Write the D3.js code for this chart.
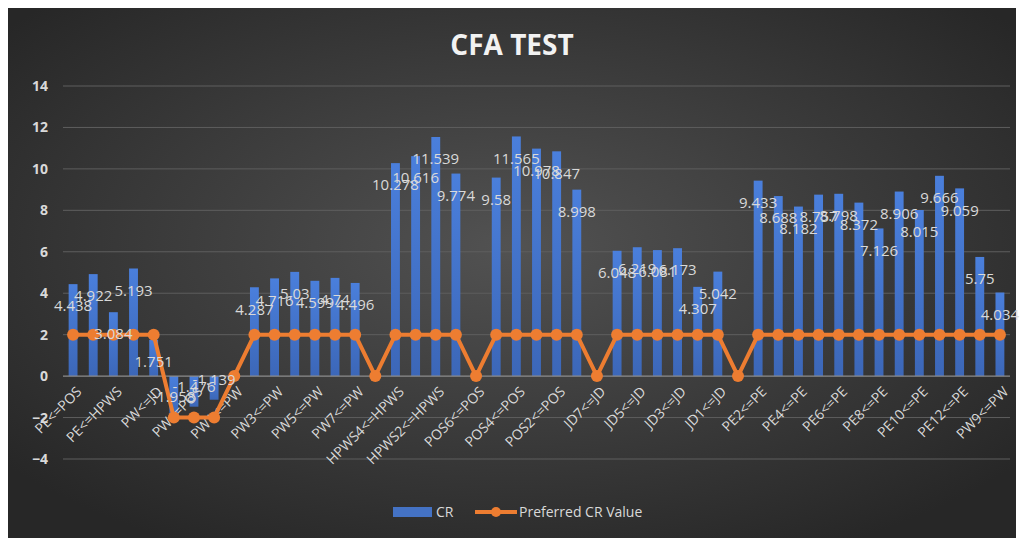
<!DOCTYPE html>
<html>
<head>
<meta charset="utf-8">
<script src="https://cdn.jsdelivr.net/npm/d3@7"></script>
<style>
  html, body { margin: 0; padding: 0; background: #fff; }
  svg { display: block; }
  text { font-family: "Open Sans", Lato, sans-serif; }
</style>
</head>
<body>
<div id="chart"></div>
<script>
// CFA TEST — CR bars + preferred CR value line

const categories = [
  'PE<=POS', 'PE<=PW', 'PE<=HPWS', 'PW<=POS', 'PW<=JD', 'PW<=HPWS', 'PW<=POS', 'PW<=PE',
  'PW1<=PW', 'PW2<=PW', 'PW3<=PW', 'PW4<=PW', 'PW5<=PW', 'PW6<=PW', 'PW7<=PW',
  'HPWS5<=HPWS', 'HPWS4<=HPWS', 'HPWS3<=HPWS', 'HPWS2<=HPWS', 'HPWS1<=HPWS',
  'POS6<=POS', 'POS5<=POS', 'POS4<=POS', 'POS3<=POS', 'POS2<=POS', 'POS1<=POS',
  'JD7<=JD', 'JD6<=JD', 'JD5<=JD', 'JD4<=JD', 'JD3<=JD', 'JD2<=JD', 'JD1<=JD',
  'PE1<=PE', 'PE2<=PE', 'PE3<=PE', 'PE4<=PE', 'PE5<=PE', 'PE6<=PE', 'PE7<=PE', 'PE8<=PE',
  'PE9<=PE', 'PE10<=PE', 'PE11<=PE', 'PE12<=PE', 'PE13<=PE', 'PW9<=PW'
];

// null = no bar for that row
const crValues = [
  4.438, 4.922, 3.084, 5.193, 1.751, -1.958, -1.476, -1.139,
  null, 4.287, 4.716, 5.03, 4.599, 4.74, 4.496,
  null, 10.278, 10.616, 11.539, 9.774,
  null, 9.58, 11.565, 10.978, 10.847, 8.998,
  null, 6.048, 6.219, 6.081, 6.173, 4.307, 5.042,
  null, 9.433, 8.688, 8.182, 8.757, 8.798, 8.372, 7.126,
  8.906, 8.015, 9.666, 9.059, 5.75, 4.034
];

const preferredValues = [
  2, 2, 2, 2, 2, -2, -2, -2,
  0, 2, 2, 2, 2, 2, 2,
  0, 2, 2, 2, 2,
  0, 2, 2, 2, 2, 2,
  0, 2, 2, 2, 2, 2, 2,
  0, 2, 2, 2, 2, 2, 2, 2,
  2, 2, 2, 2, 2, 2
];

const yTicks = [-4, -2, 0, 2, 4, 6, 8, 10, 12, 14];

const W = 1023, H = 538;
const plot = { left: 63, right: 1010, top: 86, bottom: 459 };

const svg = d3.select('#chart').append('svg')
  .attr('width', W).attr('height', H);

const defs = svg.append('defs');
const bg = defs.append('radialGradient').attr('id', 'bg')
  .attr('cx', '50%').attr('cy', '45%').attr('r', '65%');
bg.append('stop').attr('offset', '0%').attr('stop-color', '#525252');
bg.append('stop').attr('offset', '100%').attr('stop-color', '#272727');

const barGrad = defs.append('linearGradient').attr('id', 'bar')
  .attr('x1', 0).attr('y1', 0).attr('x2', 0).attr('y2', 1);
barGrad.append('stop').attr('offset', '0%').attr('stop-color', '#4a7fdc');
barGrad.append('stop').attr('offset', '100%').attr('stop-color', '#3c67b8');

// chart frame
svg.append('rect')
  .attr('x', 8).attr('y', 8).attr('width', W - 15).attr('height', H - 8)
  .attr('fill', 'url(#bg)');

svg.append('text')
  .attr('x', 512).attr('y', 55)
  .attr('text-anchor', 'middle')
  .attr('fill', '#f2f2f2')
  .attr('font-size', '28px')
  .attr('font-weight', 'bold')
  .text('CFA TEST');

const x = d3.scaleBand()
  .domain(d3.range(categories.length))
  .range([plot.left, plot.right])
  .paddingInner(0.56).paddingOuter(0.28);

const y = d3.scaleLinear().domain([-4, 14]).range([plot.bottom, plot.top]);

const cx = i => x(i) + x.bandwidth() / 2;

// gridlines
svg.append('g').selectAll('line').data(yTicks.filter(t => t !== 0)).enter().append('line')
  .attr('x1', plot.left).attr('x2', plot.right)
  .attr('y1', d => y(d)).attr('y2', d => y(d))
  .attr('stroke', '#5e5e5e').attr('stroke-width', 1);

// y axis labels
const yAxis = svg.append('g')
  .attr('transform', `translate(${plot.left},0)`)
  .call(d3.axisLeft(y).tickValues(yTicks).tickSize(0).tickPadding(15));
yAxis.select('.domain').remove();
yAxis.selectAll('text')
  .attr('fill', '#d9d9d9')
  .attr('font-size', '14px')
  .attr('font-weight', 'bold');

// bars
const barData = crValues.map((v, i) => ({ i, v })).filter(d => d.v !== null);
svg.append('g').selectAll('rect').data(barData).enter().append('rect')
  .attr('x', d => x(d.i))
  .attr('width', x.bandwidth())
  .attr('y', d => y(Math.max(0, d.v)))
  .attr('height', d => Math.abs(y(d.v) - y(0)))
  .attr('fill', 'url(#bar)');

// zero axis line
svg.append('line')
  .attr('x1', plot.left).attr('x2', plot.right)
  .attr('y1', y(0)).attr('y2', y(0))
  .attr('stroke', '#8c8c8c').attr('stroke-width', 1.2);

// x axis labels (every other category)
svg.append('g').selectAll('text')
  .data(categories.map((c, i) => ({ c, i })).filter(d => d.i % 2 === 0))
  .enter().append('text')
  .attr('transform', d => `translate(${cx(d.i) + 6},${y(0) + 13}) rotate(-45)`)
  .attr('text-anchor', 'end')
  .attr('dy', '0.35em')
  .attr('fill', '#d9d9d9')
  .attr('font-size', '14px')
  .text(d => d.c);

// preferred CR line
const line = d3.line().x((d, i) => cx(i)).y(d => y(d));
svg.append('path')
  .datum(preferredValues)
  .attr('d', line)
  .attr('fill', 'none')
  .attr('stroke', '#ed7d31')
  .attr('stroke-width', 4)
  .attr('stroke-linejoin', 'round');

svg.append('g').selectAll('circle').data(preferredValues).enter().append('circle')
  .attr('cx', (d, i) => cx(i))
  .attr('cy', d => y(d))
  .attr('r', 6)
  .attr('fill', '#ed7d31');

// data labels, inside end of each bar
svg.append('g').selectAll('text').data(barData).enter().append('text')
  .attr('x', d => cx(d.i))
  .attr('y', d => d.v >= 0 ? y(d.v) + 22 : y(d.v) - 20)
  .attr('dy', '0.35em')
  .attr('text-anchor', 'middle')
  .attr('fill', '#d9d9d9')
  .attr('font-size', '15px')
  .text(d => String(d.v));

// legend
const lg = svg.append('g');
lg.append('rect')
  .attr('x', 393).attr('y', 507).attr('width', 39).attr('height', 10)
  .attr('fill', '#4472c4');
lg.append('text')
  .attr('x', 436).attr('y', 512).attr('dy', '0.35em')
  .attr('fill', '#d9d9d9').attr('font-size', '14px')
  .text('CR');
lg.append('line')
  .attr('x1', 475).attr('x2', 517).attr('y1', 512).attr('y2', 512)
  .attr('stroke', '#ed7d31').attr('stroke-width', 4);
lg.append('circle')
  .attr('cx', 496).attr('cy', 512).attr('r', 5)
  .attr('fill', '#ed7d31');
lg.append('text')
  .attr('x', 519).attr('y', 512).attr('dy', '0.35em')
  .attr('fill', '#d9d9d9').attr('font-size', '14px')
  .text('Preferred CR Value');
</script>
</body>
</html>
